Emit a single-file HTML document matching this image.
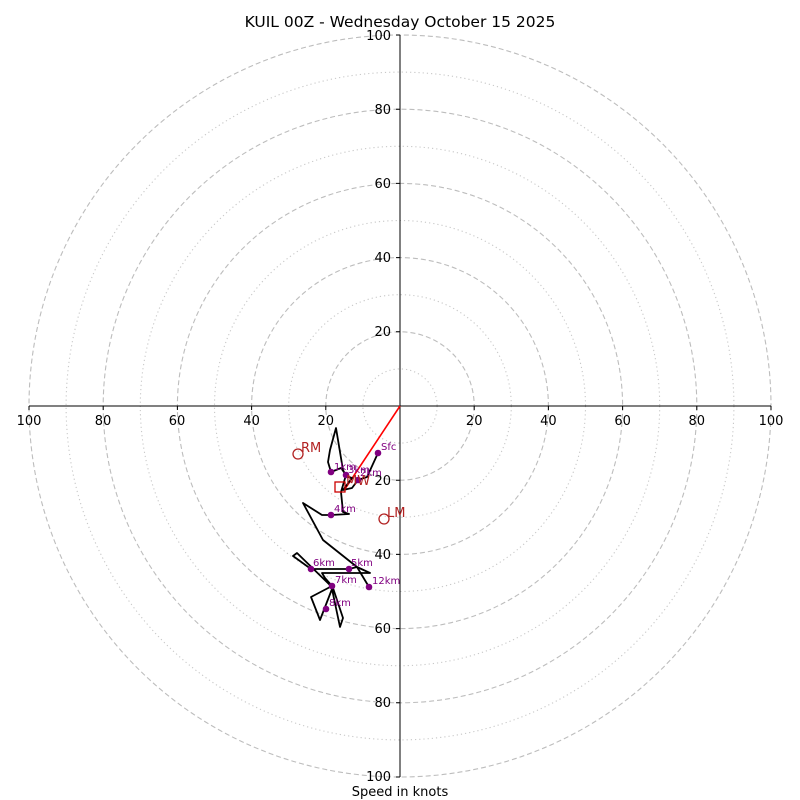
<!DOCTYPE html>
<html><head><meta charset="utf-8"><style>
html,body{margin:0;padding:0;background:#fff;}
svg{display:block;font-family:"DejaVu Sans","Liberation Sans",sans-serif;}
</style></head><body>
<svg width="800" height="800" viewBox="0 0 800 800" xmlns="http://www.w3.org/2000/svg">
<rect width="800" height="800" fill="#fff"/>
<text x="400" y="27" font-size="15.5" text-anchor="middle" fill="#000">KUIL 00Z - Wednesday October 15 2025</text>
<g fill="none" stroke="#bdbdbd" stroke-width="1.1">
<g stroke-dasharray="5,3">
<circle cx="400" cy="406" r="74.2"/><circle cx="400" cy="406" r="148.4"/><circle cx="400" cy="406" r="222.6"/><circle cx="400" cy="406" r="296.8"/><circle cx="400" cy="406" r="371"/>
</g>
<g stroke-dasharray="1.2,3" stroke="#c8c8c8">
<circle cx="400" cy="406" r="37.1"/><circle cx="400" cy="406" r="111.3"/><circle cx="400" cy="406" r="185.5"/><circle cx="400" cy="406" r="259.7"/><circle cx="400" cy="406" r="333.9"/>
</g>
</g>
<g stroke="#000" stroke-width="1">
<line x1="29" y1="406" x2="771" y2="406"/><line x1="400" y1="35" x2="400" y2="777"/>
<path d="M29 406v4M103.2 406v4M177.4 406v4M251.6 406v4M325.8 406v4M474.2 406v4M548.4 406v4M622.6 406v4M696.8 406v4M771 406v4"/>
<path d="M400 35h-4M400 109.2h-4M400 183.4h-4M400 257.6h-4M400 331.8h-4M400 480.2h-4M400 554.4h-4M400 628.6h-4M400 702.8h-4M400 777h-4"/>
</g>
<g font-size="13" fill="#000" text-anchor="middle">
<text x="29" y="425">100</text><text x="103" y="425">80</text><text x="177" y="425">60</text><text x="251.6" y="425">40</text><text x="325.8" y="425">20</text>
<text x="474.2" y="425">20</text><text x="548.4" y="425">40</text><text x="622.6" y="425">60</text><text x="696.8" y="425">80</text><text x="771" y="425">100</text>
</g>
<g font-size="13" fill="#000" text-anchor="end">
<text x="391" y="40">100</text><text x="391" y="114">80</text><text x="391" y="188">60</text><text x="391" y="262">40</text><text x="391" y="336">20</text>
<text x="391" y="485">20</text><text x="391" y="559">40</text><text x="391" y="633">60</text><text x="391" y="707">80</text><text x="391" y="781">100</text>
</g>
<text x="400" y="796" font-size="13" text-anchor="middle">Speed in knots</text>
<line x1="400" y1="406" x2="345" y2="489" stroke="#f00" stroke-width="1.6"/>
<polyline fill="none" stroke="#000" stroke-width="1.8" stroke-linejoin="round" points="378,453 367,477 358,480 352,488 343,490 352,478 346,476 343,470 336,428 330,450 328,462 331,472 341,468 346,475 341,492 343,512 349,514 331,515 322,515 303,503 323,540 357,567 370,573 322,573 325,578 332,586 311,597 320,620 332,589 340,627 343,618 333,588 297,553 293,556 311,569 349,569 357,567 369,587"/>
<rect x="335" y="482" width="10" height="10" fill="none" stroke="#c00" stroke-width="1.3"/>
<g fill="#800080">
<circle cx="378" cy="453" r="3.3"/><circle cx="331" cy="472" r="3.3"/><circle cx="346" cy="475" r="3.3"/><circle cx="358" cy="480" r="3.3"/>
<circle cx="331" cy="515" r="3.3"/><circle cx="349" cy="569" r="3.3"/><circle cx="311" cy="569" r="3.3"/><circle cx="332" cy="586" r="3.3"/><circle cx="326" cy="609" r="3.3"/><circle cx="369" cy="587" r="3.3"/>
</g>
<g font-size="10" fill="#800080">
<text x="381" y="450">Sfc</text><text x="334" y="470">1km</text><text x="348" y="473">3km</text><text x="360" y="476">2km</text>
<text x="334" y="512">4km</text><text x="351" y="566">5km</text><text x="313" y="566">6km</text><text x="335" y="583">7km</text><text x="329" y="606">8km</text><text x="372" y="584">12km</text>
</g>
<g fill="none" stroke="#b22222" stroke-width="1.3">
<circle cx="298" cy="454" r="5"/><circle cx="384" cy="519" r="5"/>
</g>
<g font-size="13" fill="#b22222">
<text x="301" y="452">RM</text><text x="387" y="517">LM</text><text x="346" y="485">MW</text>
</g>
</svg>
</body></html>
